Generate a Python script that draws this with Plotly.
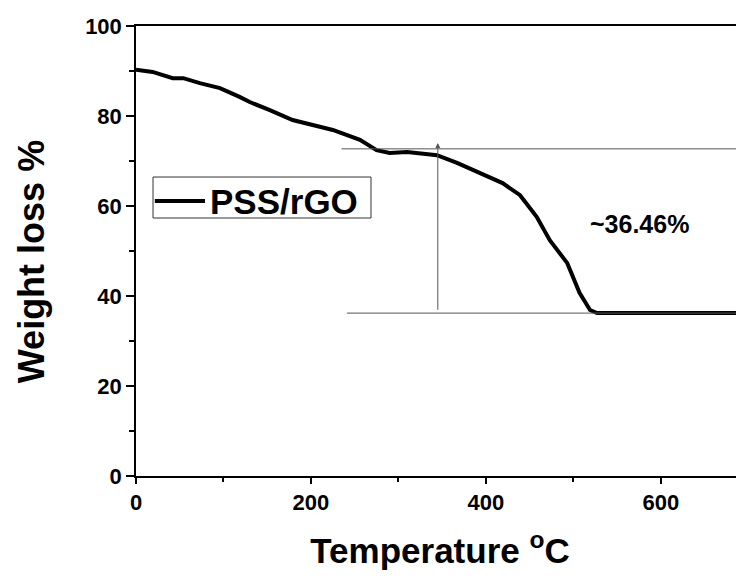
import plotly.graph_objects as go

# TGA curve of PSS/rGO
temperature = [0, 19, 42, 54, 73, 96, 119, 130, 153, 179, 225, 256, 275, 290, 310,
               344, 367, 397, 419, 439, 458, 473, 493, 507, 519, 527, 553, 599, 645, 695]
weight = [90.3, 89.8, 88.4, 88.4, 87.3, 86.2, 84.2, 83.1, 81.3, 79.1, 76.9, 74.7, 72.4,
          71.8, 72.0, 71.3, 69.6, 66.9, 65.1, 62.4, 57.6, 52.4, 47.3, 40.7, 36.9, 36.2,
          36.2, 36.0, 36.2, 36.2]
series_name = "PSS/rGO"

# weight-loss guide lines
upper_level = 72.7
lower_level = 36.2
upper_start = 235
lower_start = 241
marker_temp = 345
loss_label = "~36.46%"

FONT = "Arial, Liberation Sans, sans-serif"

fig = go.Figure()
fig.add_trace(go.Scatter(
    x=temperature, y=weight, mode="lines", name=series_name,
    line=dict(color="black", width=4), showlegend=False,
))

guide = dict(color="#555555", width=1)
fig.add_shape(type="line", x0=upper_start, x1=700, y0=upper_level, y1=upper_level, line=guide)
fig.add_shape(type="line", x0=lower_start, x1=700, y0=lower_level, y1=lower_level, line=guide)
fig.add_annotation(
    x=marker_temp, y=upper_level + 1.3, ax=marker_temp, ay=lower_level + 0.4,
    xref="x", yref="y", axref="x", ayref="y", text="",
    showarrow=True, arrowhead=2, arrowsize=1, arrowwidth=1, arrowcolor="#555555",
)
fig.add_annotation(
    x=576, y=55.9, text=loss_label, showarrow=False,
    font=dict(family=FONT, size=25, color="black", weight="bold"),
)

# legend box drawn by hand so it keeps the reference proportions
fig.add_shape(type="rect", xref="paper", yref="paper", x0=0.028, x1=0.3865, y0=0.5733, y1=0.6644,
              line=dict(color="#333333", width=1), fillcolor="white")
fig.add_shape(type="line", xref="paper", yref="paper", x0=0.031, x1=0.1135, y0=0.611, y1=0.611,
              line=dict(color="black", width=4))
fig.add_annotation(
    xref="paper", yref="paper", x=0.118, y=0.611, xanchor="left", yanchor="middle",
    text=series_name, showarrow=False,
    font=dict(family=FONT, size=35, color="black", weight="bold"),
)

# y title as an annotation so it sits a little below the plot centre, like the reference
fig.add_annotation(
    xref="paper", yref="paper", x=-0.172, y=0.476, xanchor="center", yanchor="middle",
    text="Weight loss %", textangle=-90, showarrow=False,
    font=dict(family=FONT, size=36, color="black", weight="bold"),
)

fig.update_layout(
    width=736, height=565,
    margin=dict(l=128, r=0, t=18, b=97),
    paper_bgcolor="white", plot_bgcolor="white",
    font=dict(family=FONT, color="black"),
    showlegend=False,
)

fig.update_xaxes(
    range=[0, 695], showgrid=False, zeroline=False, automargin=False,
    showline=True, linecolor="black", linewidth=1.5, mirror=True,
    tickmode="array", tickvals=[0, 200, 400, 600],
    ticks="outside", ticklen=6, tickwidth=1.5, tickcolor="black",
    minor=dict(tickvals=[100, 300, 500, 700], ticks="outside", ticklen=4, tickwidth=1.5, tickcolor="black"),
    tickfont=dict(family=FONT, size=22, weight="bold"),
    title=dict(text="Temperature <sup>o</sup>C", standoff=24,
               font=dict(family=FONT, size=35, weight="bold")),
)
fig.update_yaxes(
    range=[0, 100], showgrid=False, zeroline=False, automargin=False,
    showline=True, linecolor="black", linewidth=1.5,
    tickmode="array", tickvals=[0, 20, 40, 60, 80, 100],
    ticks="outside", ticklen=8, tickwidth=1.5, tickcolor="black",
    minor=dict(tickvals=[10, 30, 50, 70, 90], ticks="outside", ticklen=5, tickwidth=1.5, tickcolor="black"),
    tickfont=dict(family=FONT, size=22, weight="bold"),
)

fig.write_html("out.html")
